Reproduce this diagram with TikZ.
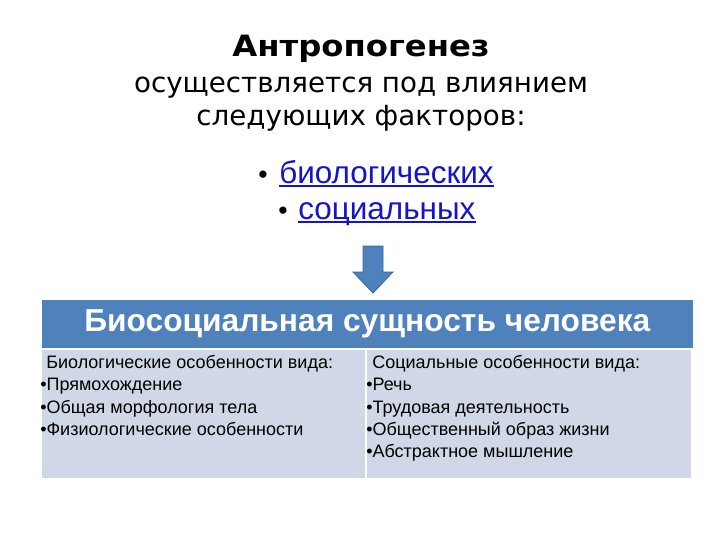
\documentclass[tikz,border=0pt]{standalone}
\usepackage{fontspec}
\setmainfont{Liberation Sans}
\newfontfamily\titlefont{DejaVu Sans}
\definecolor{hdrblue}{HTML}{4F81BD}
\definecolor{arrowedge}{HTML}{3A66A0}
\definecolor{cellfill}{HTML}{D0D8E8}
\definecolor{linkblue}{RGB}{20,20,200}
\tikzset{
  titletxt/.style={anchor=base, inner sep=0pt, font=\titlefont\fontsize{20.8}{24}\selectfont},
  linktxt/.style={anchor=base west, inner sep=0pt, text=linkblue, font=\fontsize{23.6}{26}\selectfont},
  linkline/.style={draw=linkblue, line width=1pt},
  bul/.style={anchor=base, inner sep=0pt, font=\fontsize{20}{26}\selectfont},
  cellbox/.style={draw=white, line width=1.2pt, fill=cellfill, anchor=north west, inner sep=0pt},
  celltxt/.style={anchor=north west, inner sep=0pt, align=left, font=\fontsize{13.5}{16.7}\selectfont},
}
\begin{document}
\begin{tikzpicture}[x=0.75pt,y=-0.75pt]
\useasboundingbox (0,0) rectangle (720,540);
% title
\node[titletxt, font=\titlefont\bfseries\fontsize{22}{24}\selectfont] (t1) at (361,56) {\scalebox{1.1}[1]{Антропогенез}};
\node[titletxt] (t2) at (361,92) {осуществляется под влиянием};
\node[titletxt] (t3) at (361,125) {следующих факторов:};
% bullets
\node[bul] (bb1) at (263,183) {•};
\node[linktxt] (l1) at (279,183) {биологических};
\draw[linkline] ([yshift=-2.2pt]l1.base west) -- ([yshift=-2.2pt]l1.base east);
\node[bul] (bb2) at (283,219) {•};
\node[linktxt] (l2) at (298,219) {социальных};
\draw[linkline] ([yshift=-2.2pt]l2.base west) -- ([yshift=-2.2pt]l2.base east);
% arrow
\filldraw[fill=hdrblue, draw=arrowedge, line width=0.6pt]
  (363,246) -- (383,246) -- (383,272) -- (393,272) -- (373,293) -- (353,272) -- (363,272) -- cycle;
% table
\node[cellbox, fill=hdrblue, minimum width=489.75pt, minimum height=37.5pt] (hdr) at (40,298) {};
\node[anchor=center, text=white, font=\bfseries\fontsize{23.8}{26}\selectfont] (hdrtxt) at (hdr.center) {Биосоциальная сущность человека};
\node[cellbox, minimum width=243.75pt, minimum height=97.5pt] (lc) at (40,348) {};
\node[cellbox, minimum width=244.5pt, minimum height=97.5pt] (rc) at (365,348) {};
\node[celltxt] (lt) at (40,355) {\hspace{4.5pt}Биологические особенности вида:\\•Прямохождение\\•Общая морфология тела\\•Физиологические особенности};
\node[celltxt] (rt) at (366,355) {\hspace{4.5pt}Социальные особенности вида:\\•Речь\\•Трудовая деятельность\\•Общественный образ жизни\\•Абстрактное мышление};
\end{tikzpicture}
\end{document}
